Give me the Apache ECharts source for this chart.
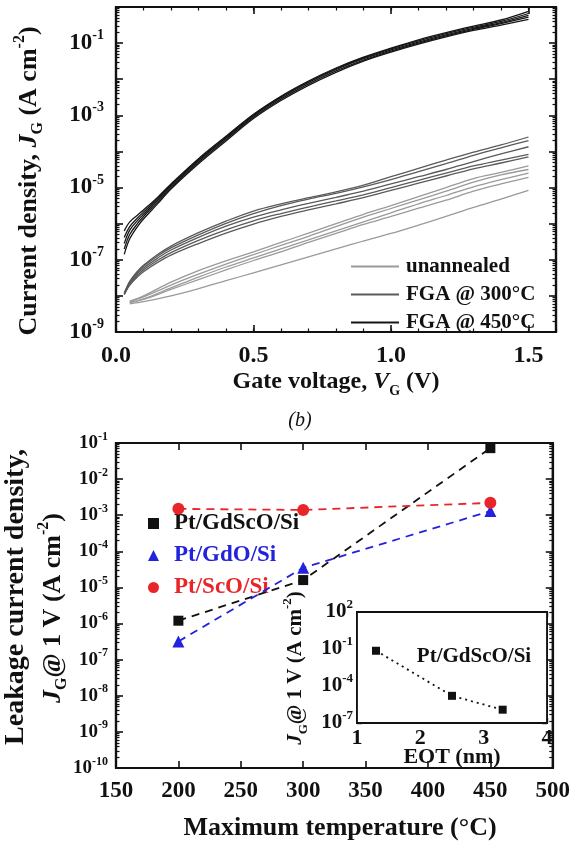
<!DOCTYPE html>
<html>
<head>
<meta charset="utf-8">
<script src="https://cdn.jsdelivr.net/npm/echarts@6/dist/echarts.min.js"></script>
<style>
  html, body { margin: 0; padding: 0; background: #fff; }
  #chart { width: 573px; height: 850px; }
</style>
</head>
<body>
<div id="chart"></div>
<script>
const SERIF = '"Liberation Serif", "Times New Roman", serif';

// ---- Panel (a): gate leakage sweeps, values are log10(J / A cm^-2) ----
const vAnnealed = [0.03, 0.05, 0.08, 0.1, 0.15, 0.2, 0.3, 0.4, 0.5, 0.6, 0.7, 0.8, 0.9, 1.0, 1.1, 1.2, 1.3, 1.4, 1.5];
const vUnannealed = [0.05, 0.1, 0.2, 0.3, 0.4, 0.5, 0.6, 0.7, 0.8, 0.9, 1.0, 1.1, 1.2, 1.3, 1.4, 1.5];

const logJ450 = [
  [-6.2, -5.95, -5.75, -5.62, -5.28, -4.9, -4.2, -3.58, -2.97, -2.47, -2.05, -1.69, -1.39, -1.14, -0.91, -0.71, -0.53, -0.36, -0.12],
  [-6.38, -6.08, -5.83, -5.68, -5.32, -4.93, -4.23, -3.61, -2.99, -2.49, -2.07, -1.71, -1.41, -1.16, -0.94, -0.74, -0.56, -0.4, -0.18],
  [-6.55, -6.18, -5.9, -5.74, -5.36, -4.96, -4.26, -3.63, -3.01, -2.51, -2.09, -1.73, -1.43, -1.19, -0.97, -0.77, -0.59, -0.43, -0.23],
  [-6.7, -6.3, -5.98, -5.8, -5.41, -5.0, -4.3, -3.67, -3.05, -2.55, -2.13, -1.77, -1.47, -1.22, -1.0, -0.8, -0.62, -0.46, -0.28],
  [-6.85, -6.42, -6.06, -5.87, -5.46, -5.04, -4.34, -3.71, -3.09, -2.59, -2.17, -1.81, -1.5, -1.25, -1.03, -0.83, -0.65, -0.5, -0.34]
];
const logJ300 = [
  [-7.93, -7.6, -7.3, -7.15, -6.86, -6.62, -6.25, -5.93, -5.65, -5.45, -5.28, -5.12, -4.93, -4.7, -4.47, -4.24, -4.02, -3.82, -3.6],
  [-7.93, -7.62, -7.33, -7.18, -6.9, -6.67, -6.31, -5.99, -5.72, -5.5, -5.32, -5.16, -4.98, -4.78, -4.56, -4.34, -4.11, -3.9, -3.7],
  [-7.95, -7.65, -7.37, -7.23, -6.96, -6.73, -6.38, -6.07, -5.82, -5.62, -5.44, -5.27, -5.1, -4.9, -4.7, -4.5, -4.28, -4.07, -3.87],
  [-7.95, -7.68, -7.42, -7.28, -7.02, -6.8, -6.46, -6.17, -5.92, -5.72, -5.54, -5.37, -5.2, -5.0, -4.8, -4.6, -4.4, -4.24, -4.08],
  [-7.97, -7.7, -7.46, -7.33, -7.08, -6.87, -6.55, -6.26, -6.01, -5.8, -5.62, -5.45, -5.28, -5.08, -4.88, -4.68, -4.48, -4.32, -4.15]
];
const logJUnannealed = [
  [-8.15, -8.0, -7.62, -7.3, -7.03, -6.78, -6.52, -6.26, -6.0, -5.74, -5.5, -5.25, -5.0, -4.75, -4.58, -4.4],
  [-8.15, -8.03, -7.7, -7.4, -7.12, -6.86, -6.6, -6.35, -6.08, -5.82, -5.58, -5.34, -5.1, -4.85, -4.65, -4.5],
  [-8.18, -8.08, -7.78, -7.48, -7.2, -6.95, -6.7, -6.45, -6.2, -5.95, -5.7, -5.45, -5.22, -4.98, -4.78, -4.6],
  [-8.18, -8.1, -7.82, -7.55, -7.28, -7.02, -6.78, -6.52, -6.27, -6.02, -5.8, -5.57, -5.35, -5.1, -4.9, -4.72],
  [-8.22, -8.16, -8.0, -7.8, -7.58, -7.36, -7.14, -6.92, -6.7, -6.48, -6.27, -6.04, -5.8, -5.55, -5.32, -5.08]
];
const sweepLegend = ['unannealed', 'FGA @ 300°C', 'FGA @ 450°C'];

// ---- Panel (b): J_G at 1 V versus maximum process temperature ----
const temps = [200, 300, 450];
const jGdScO = [1.2e-6, 1.6e-5, 7.2e-2];
const jGdO = [3.2e-7, 3.5e-5, 1.3e-3];
const jScO = [1.5e-3, 1.4e-3, 2.2e-3];
const stackNames = ['Pt/GdScO/Si', 'Pt/GdO/Si', 'Pt/ScO/Si'];

// inset: J_G at 1 V versus EOT for Pt/GdScO/Si
const eot = [1.3, 2.5, 3.3];
const jEot = [7.2e-2, 1.6e-5, 1.2e-6];

const BLUE = '#2323dd';
const RED = '#e8262a';
const GREY_UN = '#9a9a9a';
const GREY_300 = '#5a5a5a';
const BLACK_450 = '#161616';

// The left and right y axes of a panel share one range, so a group of
// curves may be drawn through either of them with identical results.
function sweepSeries(vs, logs, name, color, yAxisIndex) {
  return logs.map(arr => ({
    type: 'line', name, xAxisIndex: 0, yAxisIndex,
    symbol: 'none', showSymbol: false, smooth: 0.35,
    lineStyle: { color, width: 1.3 }, itemStyle: { color },
    data: arr.map((l, i) => [vs[i], Math.pow(10, l)]),
    silent: true, z: 3
  }));
}

const expRich = (base, sup) => ({
  b: { fontFamily: SERIF, fontWeight: 'bold', fontSize: base, color: '#111', lineHeight: base + 6 },
  s: { fontFamily: SERIF, fontWeight: 'bold', fontSize: sup, color: '#111', verticalAlign: 'top', lineHeight: sup }
});
const expOf = v => Math.round(Math.log10(v));

const AX = { show: true, onZero: false, lineStyle: { color: '#111', width: 2.2 } };
const AX_IN = { show: true, onZero: false, lineStyle: { color: '#111', width: 1.8 } };

function numAxis(o) {
  return Object.assign({
    type: 'value', axisLine: AX, splitLine: { show: false },
    axisTick: { inside: true, length: 7, lineStyle: { color: '#111', width: 1.6 } },
    axisLabel: { show: false }
  }, o);
}
function logAxis(o) {
  return Object.assign({
    type: 'log', logBase: 10, axisLine: AX, splitLine: { show: false },
    interval: 1, splitNumber: 9,
    axisTick: { inside: true, length: 7, lineStyle: { color: '#111', width: 1.6 } },
    minorTick: { show: true, splitNumber: 9, length: 3.5, lineStyle: { color: '#111', width: 1.2 } },
    minorSplitLine: { show: false },
    axisLabel: { show: false }
  }, o);
}
const tickLabelX = (size, margin) => ({
  show: true, margin, fontFamily: SERIF, fontWeight: 'bold', fontSize: size, color: '#111', showMaxLabel: false
});
const minorOnly = { show: false, onZero: false };

const xAxes = [
  // panel (a)
  numAxis({ gridIndex: 0, position: 'bottom', min: 0, max: 1.6, interval: 0.5,
            axisLabel: Object.assign(tickLabelX(24, 12), { formatter: v => v.toFixed(1) }) }),
  numAxis({ gridIndex: 0, position: 'bottom', min: 0, max: 1.6, interval: 0.1, axisLine: minorOnly,
            axisTick: { inside: true, length: 3.5, lineStyle: { color: '#111', width: 1.2 } } }),
  numAxis({ gridIndex: 0, position: 'top', min: 0, max: 1.6, interval: 0.5 }),
  numAxis({ gridIndex: 0, position: 'top', min: 0, max: 1.6, interval: 0.1, axisLine: minorOnly,
            axisTick: { inside: true, length: 3.5, lineStyle: { color: '#111', width: 1.2 } } }),
  // panel (b)
  numAxis({ gridIndex: 1, position: 'bottom', min: 150, max: 500, interval: 50,
            axisLabel: Object.assign(tickLabelX(23, 12), { showMaxLabel: true }) }),
  numAxis({ gridIndex: 1, position: 'top', min: 150, max: 500, interval: 50 }),
  // inset
  numAxis({ gridIndex: 2, position: 'bottom', min: 1, max: 4, interval: 1, axisLine: AX_IN,
            axisTick: { inside: true, length: 5, lineStyle: { color: '#111', width: 1.4 } },
            minorTick: { show: true, splitNumber: 5, length: 3, lineStyle: { color: '#111', width: 1 } },
            axisLabel: Object.assign(tickLabelX(22, 4), { showMaxLabel: true }) }),
  numAxis({ gridIndex: 2, position: 'top', min: 1, max: 4, interval: 1, axisLine: AX_IN,
            axisTick: { inside: true, length: 5, lineStyle: { color: '#111', width: 1.4 } } })
];

const yAxes = [
  // panel (a): labels on every second decade
  logAxis({ gridIndex: 0, position: 'left', min: 1e-9, max: 1,
            axisLabel: { show: true, margin: 12, rich: expRich(23, 14),
              formatter: v => { const e = expOf(v); return (e % 2 !== 0) ? '{b|10}{s|' + e + '}' : ''; } } }),
  logAxis({ gridIndex: 0, position: 'right', min: 1e-9, max: 1 }),
  // panel (b)
  logAxis({ gridIndex: 1, position: 'left', min: 1e-10, max: 1e-1,
            axisLabel: { show: true, margin: 8, rich: expRich(19, 12),
              formatter: v => '{b|10}{s|' + expOf(v) + '}' } }),
  logAxis({ gridIndex: 1, position: 'right', min: 1e-10, max: 1e-1 }),
  // inset
  logAxis({ gridIndex: 2, position: 'left', min: 1e-7, max: 1e2, axisLine: AX_IN,
            axisTick: { inside: true, length: 5, lineStyle: { color: '#111', width: 1.4 } },
            minorTick: { show: false },
            axisLabel: { show: true, margin: 4, rich: expRich(21, 13),
              formatter: v => { const e = expOf(v); return ((e + 7) % 3 === 0) ? '{b|10}{s|' + e + '}' : ''; } } }),
  logAxis({ gridIndex: 2, position: 'right', min: 1e-7, max: 1e2, axisLine: AX_IN,
            axisTick: { inside: true, length: 5, lineStyle: { color: '#111', width: 1.4 } },
            minorTick: { show: false } })
];

const series = [
  ...sweepSeries(vUnannealed, logJUnannealed, sweepLegend[0], GREY_UN, 1),
  ...sweepSeries(vAnnealed, logJ300, sweepLegend[1], GREY_300, 0),
  ...sweepSeries(vAnnealed, logJ450, sweepLegend[2], BLACK_450, 0),
  {
    type: 'line', name: stackNames[0], xAxisIndex: 4, yAxisIndex: 2,
    data: temps.map((t, i) => [t, jGdScO[i]]),
    symbol: 'rect', symbolSize: 10, itemStyle: { color: '#111' },
    lineStyle: { color: '#111', width: 1.8, type: [8, 6] }, z: 4
  },
  {
    type: 'line', name: stackNames[1], xAxisIndex: 4, yAxisIndex: 2,
    data: temps.map((t, i) => [t, jGdO[i]]),
    symbol: 'triangle', symbolSize: 12, itemStyle: { color: BLUE },
    lineStyle: { color: BLUE, width: 1.8, type: [8, 6] }, z: 4
  },
  {
    type: 'line', name: stackNames[2], xAxisIndex: 4, yAxisIndex: 3,
    data: temps.map((t, i) => [t, jScO[i]]),
    symbol: 'circle', symbolSize: 12, itemStyle: { color: RED },
    lineStyle: { color: RED, width: 1.8, type: [8, 6] }, z: 4
  },
  {
    type: 'line', name: 'EOT', xAxisIndex: 6, yAxisIndex: 4,
    data: eot.map((e, i) => [e, jEot[i]]),
    symbol: 'rect', symbolSize: 8, itemStyle: { color: '#111' },
    lineStyle: { color: '#111', width: 1.8, type: [2, 4] }, z: 4
  }
];

const titleFont = { fontFamily: SERIF, fontWeight: 'bold', fill: '#111' };
function richTitle(size) {
  return {
    t: { fontFamily: SERIF, fontWeight: 'bold', fontSize: size, lineHeight: size + 8, color: '#111' },
    ti: { fontFamily: SERIF, fontWeight: 'bold', fontStyle: 'italic', fontSize: size, lineHeight: size + 8, color: '#111' },
    sub: { fontFamily: SERIF, fontWeight: 'bold', fontSize: Math.round(size * 0.6), verticalAlign: 'bottom', lineHeight: Math.round(size * 0.6), color: '#111' },
    sup: { fontFamily: SERIF, fontWeight: 'bold', fontSize: Math.round(size * 0.6), verticalAlign: 'top', lineHeight: Math.round(size * 0.6), color: '#111' }
  };
}
function label(x, y, text, size, rot) {
  return {
    type: 'text', x, y, rotation: rot || 0, z: 10,
    style: Object.assign({ text, rich: richTitle(size), align: 'center', verticalAlign: 'middle',
      fontSize: size }, titleFont)
  };
}

const option = {
  animation: false,
  backgroundColor: '#fff',
  grid: [
    // the frame keeps the right-hand edge of each panel closed
    { left: 116, top: 7, width: 440, height: 325, show: true, backgroundColor: 'transparent', borderColor: '#111', borderWidth: 2.2 },
    { left: 116, top: 443, width: 440, height: 325, show: true, backgroundColor: 'transparent', borderColor: '#111', borderWidth: 2.2 },
    { left: 357, top: 612, width: 190, height: 111, show: true, backgroundColor: '#fff', borderColor: '#111', borderWidth: 1.8, z: 3 }
  ],
  xAxis: xAxes,
  yAxis: yAxes,
  legend: [
    {
      data: sweepLegend.map(n => ({ name: n, icon: 'rect' })),
      orient: 'vertical', left: 346, top: 251,
      itemWidth: 48, itemHeight: 2, itemGap: 7, selectedMode: false,
      textStyle: { fontFamily: SERIF, fontWeight: 'bold', fontSize: 21, color: '#111', padding: [0, 0, 0, 2] }
    },
    {
      data: [
        { name: stackNames[0], icon: 'rect', textStyle: { color: '#111' } },
        { name: stackNames[1], icon: 'triangle', textStyle: { color: BLUE } },
        { name: stackNames[2], icon: 'circle', textStyle: { color: RED } }
      ],
      orient: 'vertical', left: 143, top: 507, itemWidth: 11, itemHeight: 11, itemGap: 9,
      selectedMode: false,
      textStyle: { fontFamily: SERIF, fontWeight: 'bold', fontSize: 23, padding: [0, 0, 0, 10] }
    }
  ],
  graphic: [
    label(29, 181, '{t|Current density, }{ti|J}{sub|G}{t| (A cm}{sup|-2}{t|)}', 26, Math.PI / 2),
    label(336, 382, '{t|Gate voltage, }{ti|V}{sub|G}{t| (V)}', 24, 0),
    { type: 'text', x: 300, y: 421, z: 10,
      style: { text: '(b)', fontFamily: SERIF, fontStyle: 'italic', fontSize: 20, fill: '#111', align: 'center', verticalAlign: 'middle' } },
    label(16, 597, '{t|Leakage current density,}', 28, Math.PI / 2),
    label(53, 608, '{ti|J}{sub|G}{t|@ 1 V (A cm}{sup|-2}{t|)}', 26, Math.PI / 2),
    label(340, 828, '{t|Maximum temperature (°C)}', 26, 0),
    label(296, 668, '{ti|J}{sub|G}{t|@ 1 V (A cm}{sup|-2}{t|)}', 21, Math.PI / 2),
    label(452, 757, '{t|EOT (nm)}', 22, 0),
    label(474, 657, '{t|Pt/GdScO/Si}', 21, 0)
  ],
  series
};

const chart = echarts.init(document.getElementById('chart'), null, { renderer: 'canvas' });
chart.setOption(option);
</script>
</body>
</html>
